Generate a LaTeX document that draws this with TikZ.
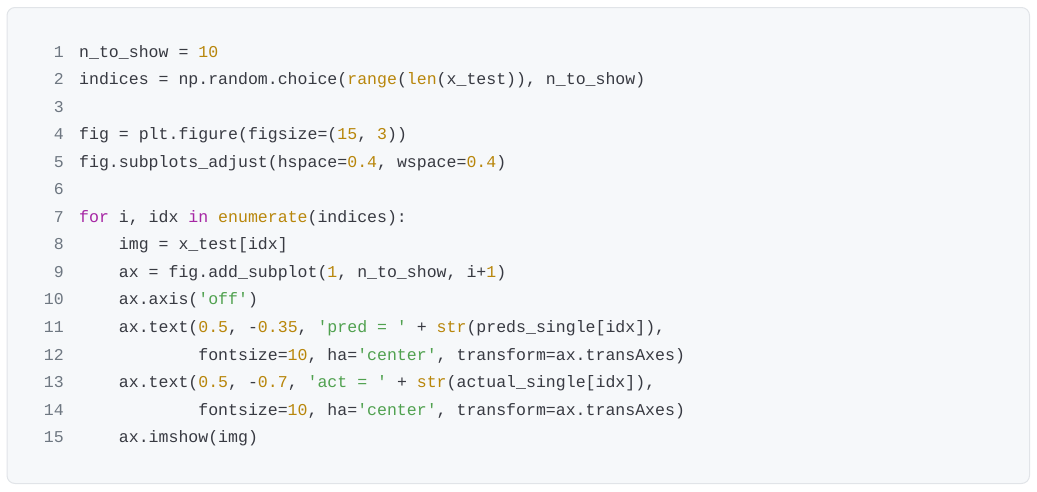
\documentclass[tikz,border=0pt]{standalone}
\usepackage{fontspec}
\setmonofont{Liberation Mono}
\definecolor{plain}{HTML}{383A42}
\definecolor{cnumc}{HTML}{B8860B}
\definecolor{ckwc}{HTML}{A626A4}
\definecolor{cstrc}{HTML}{50A14F}
\definecolor{lnum}{HTML}{6E7781}
\definecolor{bgc}{HTML}{F6F8FA}
\definecolor{borderc}{HTML}{E1E4E8}
\newcommand\ckw[1]{\textcolor{ckwc}{#1}}
\newcommand\cnum[1]{\textcolor{cnumc}{#1}}
\newcommand\cbi[1]{\textcolor{cnumc}{#1}}
\newcommand\cstr[1]{\textcolor{cstrc}{#1}}
\begin{document}
\begin{tikzpicture}[x=1pt,y=-1pt,
  codeline/.style={anchor=base west,inner sep=0pt,font=\ttfamily\fontsize{16.55}{20}\selectfont,text=plain},
  lineno/.style={anchor=base east,inner sep=0pt,font=\ttfamily\fontsize{16.55}{20}\selectfont,text=lnum}]
\useasboundingbox (0,0) rectangle (1037,491);
\draw[fill=bgc,draw=borderc,line width=1pt,rounded corners=8pt] (7,7.5) rectangle (1029.5,483.5);
\def\bx{79}
\def\cw{9.93}
\foreach \k in {1,...,15} {
  \node[lineno] (l\k) at (64,{57+(\k-1)*27.55}) {\k};
}
\node[codeline] (c1) at (\bx,57) {n\_to\_show = \cnum{10}};
\node[codeline] (c2) at (\bx,{57+1*27.55}) {indices = np.random.choice(\cbi{range}(\cbi{len}(x\_test)), n\_to\_show)};
\node[codeline] (c4) at (\bx,{57+3*27.55}) {fig = plt.figure(figsize=(\cnum{15}, \cnum{3}))};
\node[codeline] (c5) at (\bx,{57+4*27.55}) {fig.subplots\_adjust(hspace=\cnum{0.4}, wspace=\cnum{0.4})};
\node[codeline] (c7) at (\bx,{57+6*27.55}) {\ckw{for} i, idx \ckw{in} \cbi{enumerate}(indices):};
\node[codeline] (c8) at ({\bx+4*\cw},{57+7*27.55}) {img = x\_test[idx]};
\node[codeline] (c9) at ({\bx+4*\cw},{57+8*27.55}) {ax = fig.add\_subplot(\cnum{1}, n\_to\_show, i+\cnum{1})};
\node[codeline] (c10) at ({\bx+4*\cw},{57+9*27.55}) {ax.axis(\cstr{'off'})};
\node[codeline] (c11) at ({\bx+4*\cw},{57+10*27.55}) {ax.text(\cnum{0.5}, -\cnum{0.35}, \cstr{'pred = '} + \cbi{str}(preds\_single[idx]),};
\node[codeline] (c12) at ({\bx+12*\cw},{57+11*27.55}) {fontsize=\cnum{10}, ha=\cstr{'center'}, transform=ax.transAxes)};
\node[codeline] (c13) at ({\bx+4*\cw},{57+12*27.55}) {ax.text(\cnum{0.5}, -\cnum{0.7}, \cstr{'act = '} + \cbi{str}(actual\_single[idx]),};
\node[codeline] (c14) at ({\bx+12*\cw},{57+13*27.55}) {fontsize=\cnum{10}, ha=\cstr{'center'}, transform=ax.transAxes)};
\node[codeline] (c15) at ({\bx+4*\cw},{57+14*27.55}) {ax.imshow(img)};
\end{tikzpicture}
\end{document}
